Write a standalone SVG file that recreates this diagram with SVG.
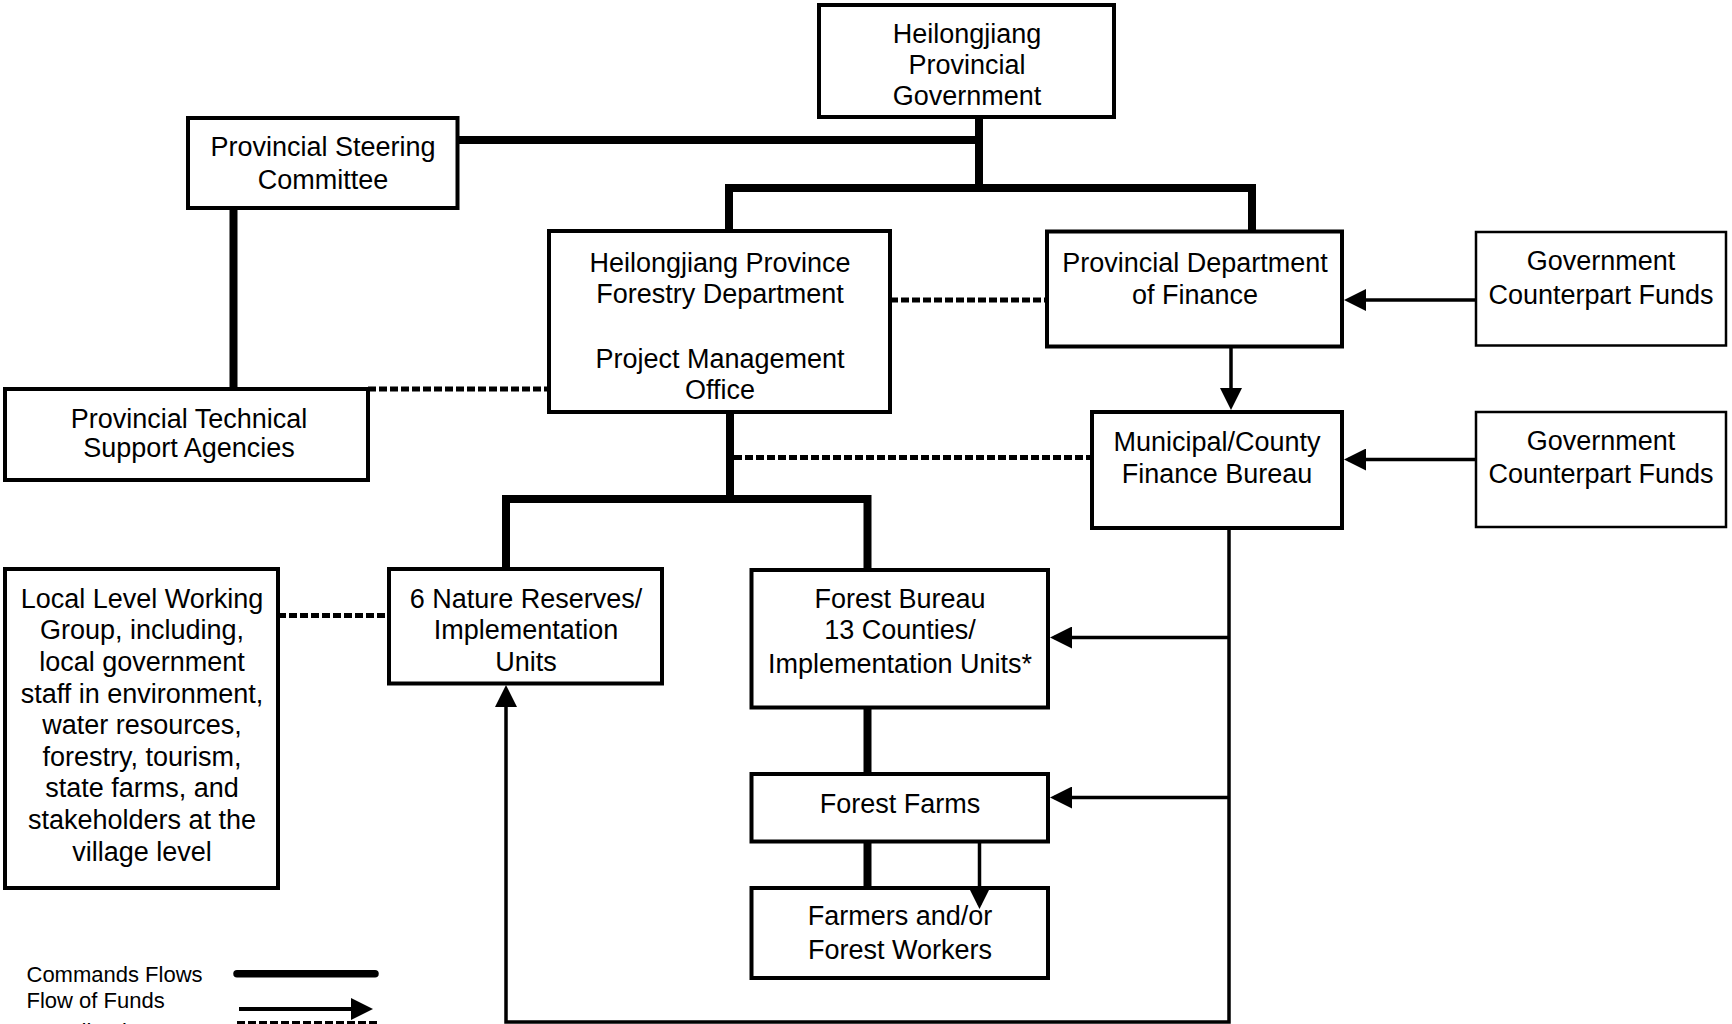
<svg xmlns="http://www.w3.org/2000/svg" width="1732" height="1024" viewBox="0 0 1732 1024">
<defs>
<style>
.box{fill:#fff;stroke:#000;stroke-width:4}
.thin{fill:#fff;stroke:#000;stroke-width:2.5}
text{font-family:"Liberation Sans",Arial,sans-serif;font-size:27px;fill:#000;text-anchor:middle}
.leg{font-size:22px;text-anchor:start}
.cmd{fill:none;stroke:#000;stroke-width:8;stroke-linejoin:miter}
.fund{fill:none;stroke:#000;stroke-width:3.5;marker-end:url(#ah)}
.coord{fill:none;stroke:#000;stroke-width:5;stroke-dasharray:8 3}
</style>
<marker id="ah" viewBox="0 0 22 22" refX="18" refY="11" markerWidth="22" markerHeight="22" markerUnits="userSpaceOnUse" orient="auto">
<path d="M0,0 L22,11 L0,22 z" fill="#000"/>
</marker>
</defs>
<rect width="1732" height="1024" fill="#fff"/>

<g id="gov"><rect class="box" x="819" y="5" width="295" height="112"/>
<text x="967" y="43">Heilongjiang</text><text x="967" y="74">Provincial</text><text x="967" y="105">Government</text></g>

<g id="psc"><rect class="box" x="188" y="118" width="269.5" height="90"/>
<text x="323" y="156">Provincial Steering</text><text x="323" y="189">Committee</text></g>

<g id="forestry"><rect class="box" x="549" y="231" width="341" height="181"/>
<text x="720" y="272">Heilongjiang Province</text><text x="720" y="303">Forestry Department</text>
<text x="720" y="368">Project Management</text><text x="720" y="399">Office</text></g>

<g id="pdf"><rect class="box" x="1047" y="231.5" width="295" height="115"/>
<text x="1195" y="272">Provincial Department</text><text x="1195" y="303.5">of Finance</text></g>

<g id="gcf1"><rect class="thin" x="1476" y="232" width="250" height="113.5"/>
<text x="1601" y="270">Government</text><text x="1601" y="303.5">Counterpart Funds</text></g>

<g id="ptsa"><rect class="box" x="5" y="389" width="363" height="91"/>
<text x="189" y="428">Provincial Technical</text><text x="189" y="457">Support Agencies</text></g>

<g id="mcfb"><rect class="box" x="1092" y="412" width="250" height="116"/>
<text x="1217" y="451">Municipal/County</text><text x="1217" y="483">Finance Bureau</text></g>

<g id="gcf2"><rect class="thin" x="1476" y="412" width="250" height="115"/>
<text x="1601" y="450">Government</text><text x="1601" y="483">Counterpart Funds</text></g>

<g id="llwg"><rect class="box" x="5" y="569" width="273" height="319"/>
<text x="142" y="607.5">Local Level Working</text>
<text x="142" y="639">Group, including,</text>
<text x="142" y="671">local government</text>
<text x="142" y="703">staff in environment,</text>
<text x="142" y="734">water resources,</text>
<text x="142" y="766">forestry, tourism,</text>
<text x="142" y="797">state farms, and</text>
<text x="142" y="829">stakeholders at the</text>
<text x="142" y="861">village level</text></g>

<g id="nr"><rect class="box" x="389" y="569" width="273" height="114.5"/>
<text x="526" y="607.5">6 Nature Reserves/</text><text x="526" y="639">Implementation</text><text x="526" y="671">Units</text></g>

<g id="fb"><rect class="box" x="751.5" y="570" width="296.5" height="137.5"/>
<text x="900" y="607.5">Forest Bureau</text><text x="900" y="639">13 Counties/</text><text x="900" y="673">Implementation Units*</text></g>

<g id="ff"><rect class="box" x="751.5" y="774" width="296.5" height="67.5"/>
<text x="900" y="813">Forest Farms</text></g>

<g id="farmers"><rect class="box" x="751.5" y="888" width="296.5" height="90"/>
<text x="900" y="925">Farmers and/or</text><text x="900" y="958.5">Forest Workers</text></g>

<g id="connectors">
<path class="cmd" d="M979,117 V188"/>
<path class="cmd" d="M457,140 H983"/>
<path class="cmd" d="M729,231 V188 H1252 V231"/>
<path class="cmd" d="M233.5,208 V389"/>
<path class="cmd" d="M730,412 V499"/>
<path class="cmd" d="M506,569 V499 H867.5 V570"/>
<path class="cmd" d="M867.5,707.5 V774"/>
<path class="cmd" d="M867.5,841.5 V888"/>

<path class="coord" d="M368,389 H549"/>
<path class="coord" d="M890,300 H1047"/>
<path class="coord" d="M734,457.5 H1092"/>
<path class="coord" d="M278,615.5 H389"/>

<path class="fund" d="M1476,300 H1348"/>
<path class="fund" d="M1231,346.5 V406"/>
<path class="fund" d="M1476,459.5 H1348"/>
<path class="fund" d="M1229,528 V1022 H506 V689"/>
<path class="fund" d="M1229,637.5 H1054"/>
<path class="fund" d="M1229,797.5 H1054"/>
<path class="fund" d="M979.5,841.5 V905"/>
</g>

<g id="legend">
<text class="leg" x="26.5" y="982">Commands Flows</text>
<text class="leg" x="26.5" y="1008">Flow of Funds</text>
<text class="leg" x="26.5" y="1039">Coordination</text>
<path d="M237,973.7 H375" stroke="#000" stroke-width="7.5" stroke-linecap="round" fill="none"/>
<path class="fund" d="M239,1009 H369" style="stroke-width:4"/>
<path class="coord" d="M237,1023.5 H378"/>
</g>
</svg>
